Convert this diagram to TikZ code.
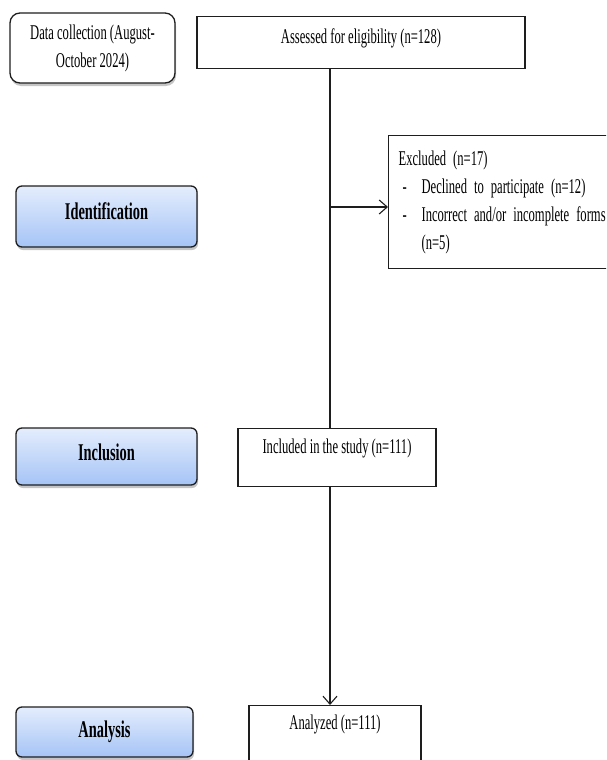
\documentclass[tikz,border=0pt]{standalone}
\usepackage{fontspec}
\setmainfont[FakeStretch=0.6]{Liberation Serif}
\usetikzlibrary{arrows.meta,shadows}
\definecolor{stagetop}{HTML}{E4EDFD}
\definecolor{stagebottom}{HTML}{A5C4F6}
\definecolor{edgegray}{HTML}{1E1E1E}

\begin{document}
\begin{tikzpicture}[
	x=1pt,y=-1pt,
	font=\fontsize{21}{28}\selectfont,
	plainbox/.style={draw=edgegray,line width=1.2pt,fill=white,inner sep=0pt},
	sidebox/.style={draw=edgegray,line width=1.3pt,rounded corners=6pt,align=center,inner sep=0pt,
		drop shadow={shadow xshift=1pt,shadow yshift=-3pt,fill=black!45,opacity=.5}},
	stagebox/.style={sidebox,top color=stagetop,bottom color=stagebottom,
		font=\fontsize{24}{28}\selectfont\bfseries},
	flow/.style={line width=1.1pt,edgegray},
	arrowflow/.style={flow,-{Straight Barb[length=8pt,width=14pt]}}]
\useasboundingbox (0,0) rectangle (606,760);
\clip (0,0) rectangle (606,760);

\node[sidebox,fill=white,rounded corners=10pt,minimum width=165pt,minimum height=70pt] (datacol) at (92.5,48)
	{Data collection (August-\\October 2024)};
\node[stagebox,minimum width=181pt,minimum height=61pt,text height=14pt,text depth=9pt] (ident) at (106.5,216.5) {Identification};
\node[stagebox,minimum width=181pt,minimum height=57pt,text height=15pt,text depth=7pt] (inclu) at (106.5,456.5) {Inclusion};
\node[stagebox,minimum width=177pt,minimum height=50pt] (analy) at (104.5,732) {Analysis};

\node[plainbox,anchor=north,minimum width=328pt,text height=27pt,text depth=25pt] (assess) at (361,16)
	{Assessed for eligibility (n=128)};
\node[plainbox,anchor=north west,minimum width=260pt,minimum height=133pt,
	text width=240pt,align=left,inner xsep=10pt] (excl) at (388,135)
	{Excluded (n=17)\\
	\makebox[23pt][l]{\hspace{4pt}-}Declined to participate (n=12)\\
	\makebox[23pt][l]{\hspace{4pt}-}\makebox[182pt][s]{Incorrect and/or incomplete forms}\\
	\hspace*{23pt}(n=5)};
\node[plainbox,anchor=north,minimum width=198pt,text height=25pt,text depth=33pt] (incl) at (337,428)
	{Included in the study (n=111)};
\node[plainbox,anchor=north,minimum width=172pt,text height=24pt,text depth=50pt] (anal) at (335,705)
	{Analyzed (n=111)};

\coordinate (split) at (330,207);
\draw[flow] (assess.south -| split) -- (incl.north -| split);
\draw[arrowflow] (split) -- (split -| excl.west);
\draw[arrowflow] (incl.south -| split) -- (anal.north -| split);
\end{tikzpicture}
\end{document}
